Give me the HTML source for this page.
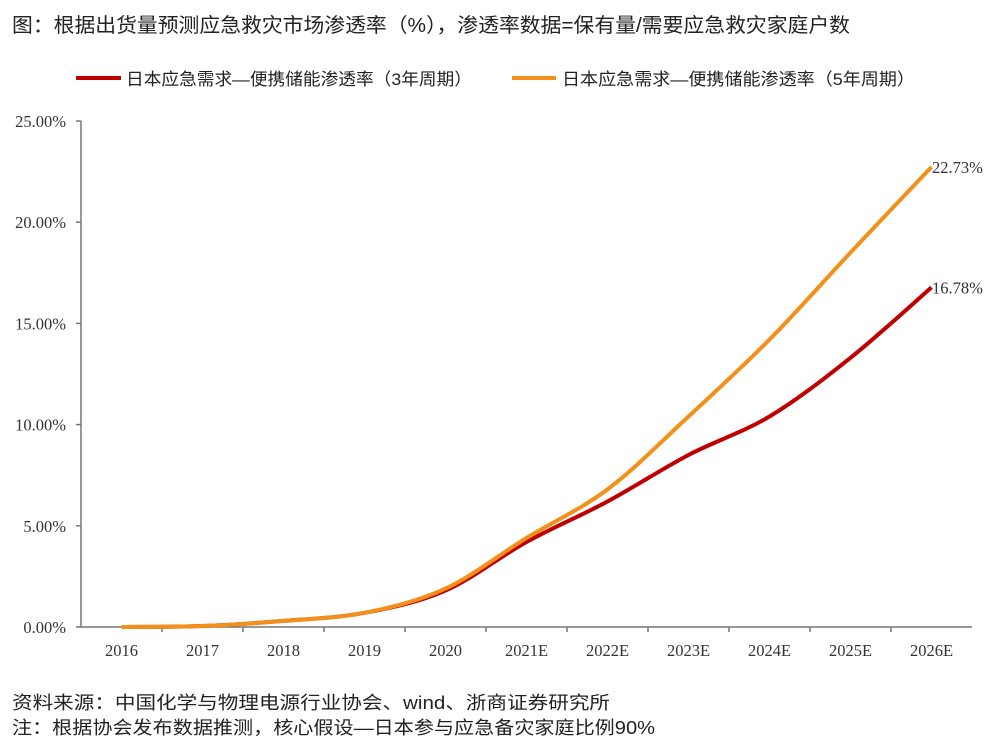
<!DOCTYPE html>
<html><head><meta charset="utf-8"><style>
body{margin:0;background:#fff;width:1000px;height:749px;overflow:hidden}
svg{display:block}
text{font-family:"Liberation Serif","Noto Serif CJK SC",serif;fill:#333}
.cn{font-family:"Liberation Sans","Noto Sans CJK SC",sans-serif;fill:#222}
</style></head><body>
<svg id="s" width="1000" height="749" xmlns="http://www.w3.org/2000/svg">
<text class="cn" x="12" y="32" font-size="20" textLength="838" lengthAdjust="spacingAndGlyphs">图：根据出货量预测应急救灾市场渗透率（%），渗透率数据=保有量/需要应急救灾家庭户数</text>
<line x1="76" y1="78" x2="121" y2="78" stroke="#c00000" stroke-width="4"/>
<text class="cn" x="126" y="85" font-size="17" textLength="346" lengthAdjust="spacingAndGlyphs">日本应急需求—便携储能渗透率（3年周期）</text>
<line x1="512" y1="78" x2="556" y2="78" stroke="#f39019" stroke-width="4"/>
<text class="cn" x="562" y="85" font-size="17" textLength="353" lengthAdjust="spacingAndGlyphs">日本应急需求—便携储能渗透率（5年周期）</text>
<g id="ax" stroke="#777" stroke-width="1.5" fill="none">
<line x1="81" y1="121" x2="81" y2="627"/>
<line x1="81" y1="627" x2="972" y2="627"/>
</g>
<text class="cn" x="12" y="709" font-size="18" textLength="598" lengthAdjust="spacingAndGlyphs">资料来源：中国化学与物理电源行业协会、wind、浙商证券研究所</text>
<text class="cn" x="12" y="734" font-size="18" textLength="643" lengthAdjust="spacingAndGlyphs">注：根据协会发布数据推测，核心假设—日本参与应急备灾家庭比例90%</text>
</svg>
<script>
var s=document.getElementById('s'),ns='http://www.w3.org/2000/svg',ax=document.getElementById('ax');
function el(t,a,p,txt){var e=document.createElementNS(ns,t);for(var k in a)e.setAttribute(k,a[k]);if(txt)e.textContent=txt;(p||s).appendChild(e);return e;}
function Y(v){return 627-v*20.24}
for(var i=0;i<=5;i++){var y=Y(i*5);el('line',{x1:76,y1:y,x2:81,y2:y},ax);el('text',{x:66,y:y+6,'font-size':16.5,'text-anchor':'end'},null,(i*5).toFixed(2)+'%');}
var lab=['2016','2017','2018','2019','2020','2021E','2022E','2023E','2024E','2025E','2026E'];
for(var i=0;i<11;i++){var x=81+81*(i+1);if(i<10)el('line',{x1:x,y1:627,x2:x,y2:632},ax);el('text',{x:121.5+81*i,y:656,'font-size':16.5,'text-anchor':'middle'},null,lab[i]);}
function path(d){var p=d.map(function(v,i){return[121.5+81*i,Y(v)]});var s='M'+p[0][0]+','+p[0][1];
for(var i=0;i<p.length-1;i++){var a=p[Math.max(i-1,0)],b=p[i],c=p[i+1],e=p[Math.min(i+2,p.length-1)];
s+=' C'+(b[0]+(c[0]-a[0])/6)+','+(b[1]+(c[1]-a[1])/6)+' '+(c[0]-(e[0]-b[0])/6)+','+(c[1]-(e[1]-b[1])/6)+' '+c[0]+','+c[1];}return s;}
var r=[0,0.05,0.3,0.7,1.8,4.2,6.2,8.5,10.4,13.3,16.78],o=[0,0.05,0.3,0.7,1.9,4.4,6.8,10.4,14.2,18.5,22.73];
el('path',{d:path(r),stroke:'#c00000','stroke-width':4,fill:'none'});
el('path',{d:path(o),stroke:'#f39019','stroke-width':4,fill:'none'});
el('text',{x:932,y:Y(22.73)+6,'font-size':16.5},null,'22.73%');
el('text',{x:932,y:Y(16.78)+6,'font-size':16.5},null,'16.78%');
</script>
</body></html>
